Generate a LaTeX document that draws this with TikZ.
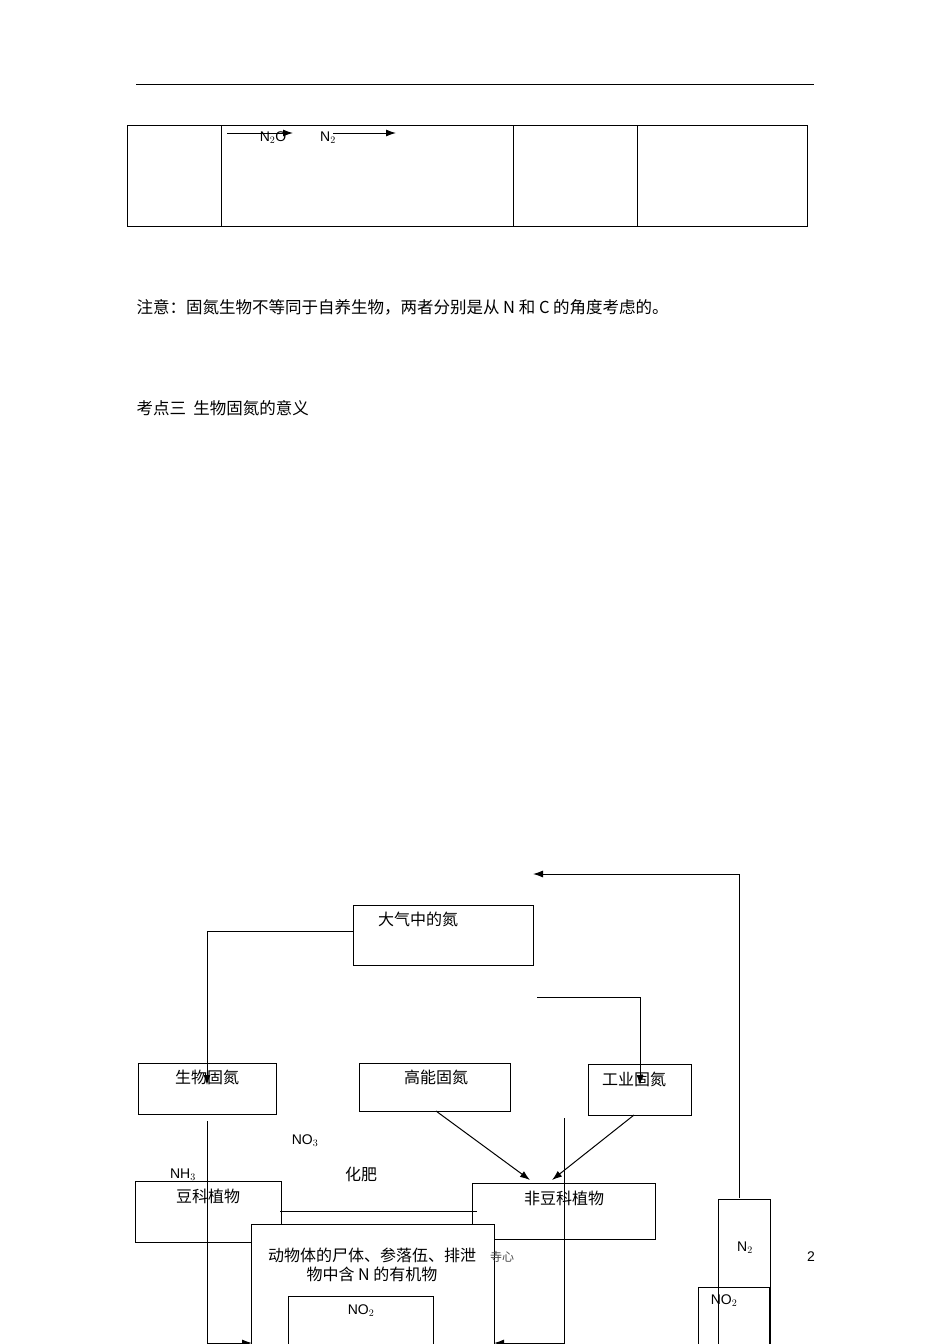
\documentclass[tikz,border=0pt]{standalone}
\usepackage{fontspec}
\setmainfont{Liberation Sans}
\newfontfamily\cjk{Noto Sans CJK SC}
\usetikzlibrary{arrows.meta}
\begin{document}
\begin{tikzpicture}[x=1pt,y=-1pt,line width=1pt,
  bx/.style={draw},
  lab/.style={font=\cjk\fontsize{16}{19}\selectfont,inner sep=0},
  txt/.style={font=\cjk\fontsize{16.5}{19}\selectfont,inner sep=0},
  chem/.style={font=\fontsize{14}{16}\selectfont,inner sep=0},
  arr/.style={-{Latex[length=10pt,width=7pt]}}]
\useasboundingbox[fill=white] (0,0) rectangle (950,1344);
\draw (136,84) -- (814,84);
% table
\draw (127,125) rectangle (807,226);
\foreach \x in {221,513,637} \draw (\x,125) -- (\x,226);
\coordinate (a1) at (227,133); \coordinate (a2) at (293,133);
\coordinate (a3) at (333,133); \coordinate (a4) at (396,133);
\draw[arr] (a1) -- (a2); \draw[arr] (a3) -- (a4);
\node[chem] (n2o) at (273,138) {N$_2$O};
\node[chem] (n2t) at (328,138) {N$_2$};
\node[txt,anchor=west] (note) at (136,307) {注意：固氮生物不等同于自养生物，两者分别是从 N 和 C 的角度考虑的。};
\node[txt,anchor=west] (kd) at (136,408) {考点三\ \ 生物固氮的意义};
% diagram boxes
\draw[bx] (353,905) rectangle (533,965); \node[lab] (dq) at (418,919) {大气中的氮};
\draw[bx] (138,1063) rectangle (276,1114); \node[lab] (sw) at (207,1077) {生物固氮};
\draw[bx] (359,1063) rectangle (510,1111); \node[lab] (gn) at (436,1077) {高能固氮};
\draw[bx] (588,1064) rectangle (691,1115); \node[lab] (gy) at (634,1079) {工业固氮};
\draw[bx] (135,1181) rectangle (281,1242); \node[lab] (dk) at (208,1196) {豆科植物};
\draw[bx] (472,1183) rectangle (655,1239); \node[lab] (fd) at (564,1198) {非豆科植物};
\draw (280,1211) -- (477,1211);
\draw[bx,fill=white] (251,1224) rectangle (494,1350);
\node[lab,align=center] (dw) at (372,1265) {动物体的尸体、参落伍、排泄\\物中含 N 的有机物};
\node[lab,font=\cjk\fontsize{12}{14}\selectfont,text=black!70] (sx) at (502,1257) {寺心};
\draw[bx] (288,1296) rectangle (433,1350); \node[chem] (no2a) at (361,1311) {NO$_2$};
\draw[bx] (718,1199) rectangle (770,1350); \node[chem] (n2b) at (745,1248) {N$_2$};
\draw[bx] (698,1287) rectangle (769,1350); \node[chem] (no2b) at (724,1301) {NO$_2$};
\node[chem] (pg) at (811,1257) {2};
\node[chem] (no3) at (305,1141) {NO$_3$};
\node[chem] (nh3) at (183,1175) {NH$_3$};
\node[lab] (hf) at (361,1174) {化肥};
% connectors
\coordinate (t1) at (739,1198); \coordinate (t2) at (739,874); \coordinate (t3) at (533,874);
\draw[arr] (t1) -- (t2) -- (t3);
\coordinate (l1) at (353,931); \coordinate (l2) at (207,931); \coordinate (l3) at (207,1085);
\draw[arr] (l1) -- (l2) -- (l3);
\coordinate (r1) at (537,997); \coordinate (r2) at (640,997); \coordinate (r3) at (640,1085);
\draw[arr] (r1) -- (r2) -- (r3);
\draw[arr] (436,1111) -- (530,1180);
\draw[arr] (634,1115) -- (552,1180);
\coordinate (b1) at (207,1121); \coordinate (b2) at (207,1343); \coordinate (b3) at (252,1343);
\draw[arr] (b1) -- (b2) -- (b3);
\coordinate (c1) at (564,1118); \coordinate (c2) at (564,1343); \coordinate (c3) at (494,1343);
\draw[arr] (c1) -- (c2) -- (c3);
\end{tikzpicture}
\end{document}
